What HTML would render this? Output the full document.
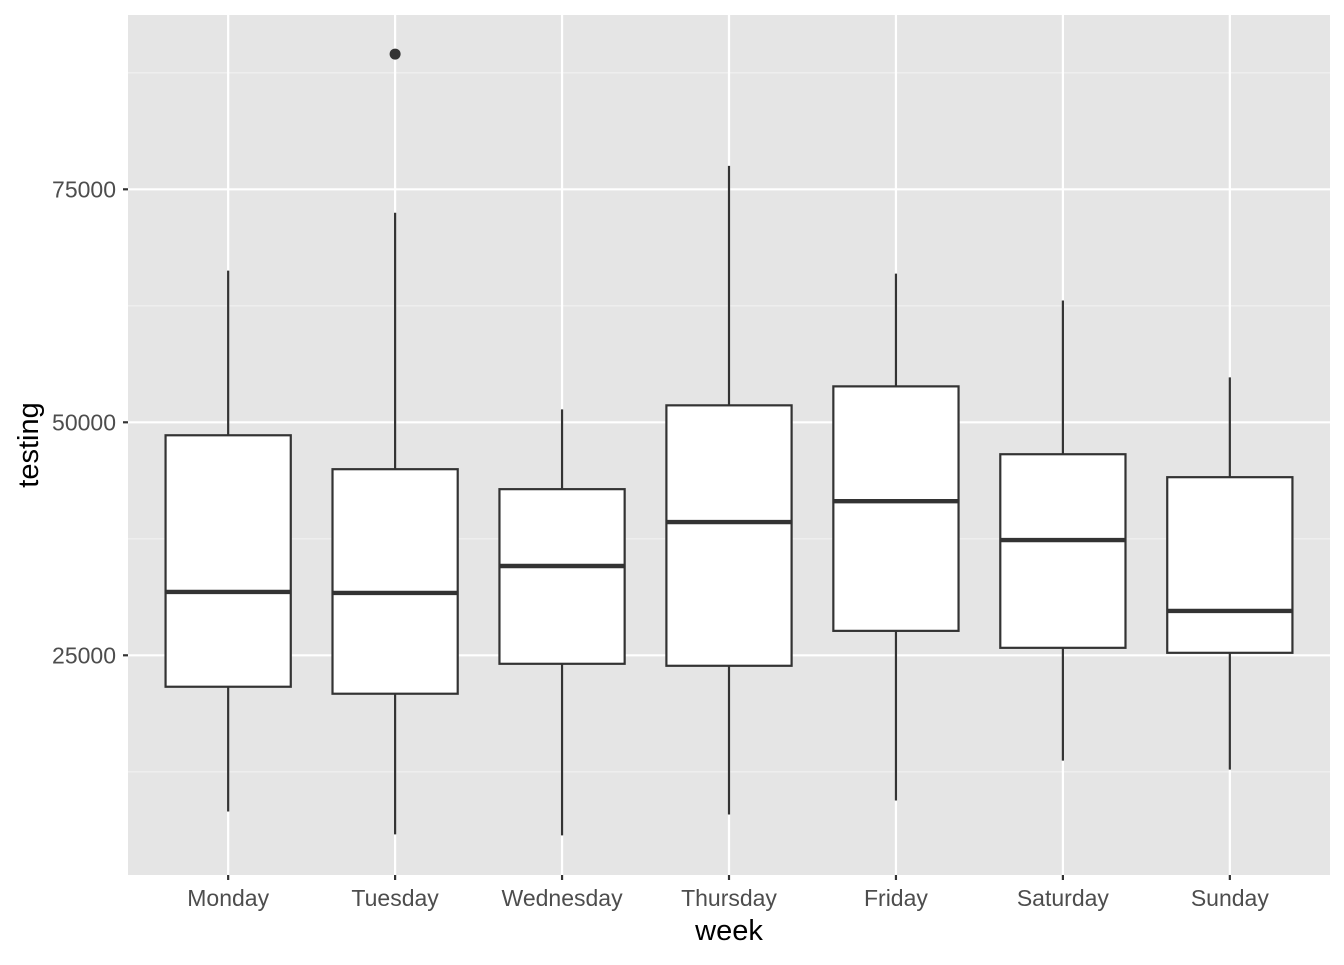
<!DOCTYPE html>
<html><head><meta charset="utf-8"><style>
body{margin:0;background:#fff;}
svg text{font-family:"Liberation Sans",Arial,sans-serif;}
</style></head><body>
<svg id="chart" width="1344" height="960" xmlns="http://www.w3.org/2000/svg"></svg>
<script>
const categories=["Monday","Tuesday","Wednesday","Thursday","Friday","Saturday","Sunday"];
const lowWhisker=[8243,5780,5673,7922,9421,13703,12740];
const q1=[21626,20877,24089,23875,27622,25802,25267];
const median=[31798,31691,34582,39293,41541,37366,29764];
const q3=[48608,44968,42826,51820,53855,46574,44111];
const highWhisker=[66275,72485,51392,77517,65954,63063,54818];
const outliers=[[],[89509],[],[],[],[],[]];
const majorTicks=[25000,50000,75000];
const minorTicks=[12500,37500,62500,87500];

const NS="http://www.w3.org/2000/svg";
const svg=document.getElementById('chart');
const L=128,R=1330,T=15,B=875;
const yv=v=>422.3-(v-50000)*233/25000;
const step=(R-L)/7.2;
const xc=i=>L+step*(0.6+i);
function mk(tag,attrs,parent){const e=document.createElementNS(NS,tag);for(const k in attrs)e.setAttribute(k,attrs[k]);(parent||svg).appendChild(e);return e;}
const panel=mk('rect',{x:L,y:T,width:R-L,height:B-T,fill:'#e5e5e5'});


minorTicks.forEach(v=>{const l=mk('line',{x1:L,x2:R,y1:yv(v),y2:yv(v),stroke:'#f2f2f2','stroke-width':1.1});

});
majorTicks.forEach(v=>{const l=mk('line',{x1:L,x2:R,y1:yv(v),y2:yv(v),stroke:'#fff','stroke-width':2.2});


const t=mk('line',{x1:L-5,x2:L,y1:yv(v),y2:yv(v),stroke:'#333','stroke-width':2.2});


const tx=mk('text',{x:L-12,y:yv(v)+8,'text-anchor':'end','font-size':23,fill:'#4d4d4d'});tx.textContent=v;

});
categories.forEach((c,i)=>{const x=xc(i);
const g=mk('line',{x1:x,x2:x,y1:T,y2:B,stroke:'#fff','stroke-width':2.2});


const t=mk('line',{x1:x,x2:x,y1:B,y2:B+5,stroke:'#333','stroke-width':2.2});


const tx=mk('text',{x:x,y:B+31,'text-anchor':'middle','font-size':23,fill:'#4d4d4d'});tx.textContent=c;

});
categories.forEach((c,i)=>{const x=xc(i),w=step*0.75;
const grp=mk('g',{});


mk('line',{x1:x,x2:x,y1:yv(highWhisker[i]),y2:yv(q3[i]),stroke:'#333','stroke-width':2.2},grp);
mk('line',{x1:x,x2:x,y1:yv(q1[i]),y2:yv(lowWhisker[i]),stroke:'#333','stroke-width':2.2},grp);
mk('rect',{x:x-w/2,y:yv(q3[i]),width:w,height:yv(q1[i])-yv(q3[i]),fill:'#fff',stroke:'#333','stroke-width':2.2},grp);
mk('line',{x1:x-w/2,x2:x+w/2,y1:yv(median[i]),y2:yv(median[i]),stroke:'#333','stroke-width':4.4},grp);
outliers[i].forEach(v=>{const p=mk('circle',{cx:x,cy:yv(v),r:5.5,fill:'#333'},grp);

});});
const xt=mk('text',{x:(L+R)/2,y:940,'text-anchor':'middle','font-size':29,fill:'#000'});xt.textContent='week';


const yt=mk('text',{x:0,y:0,'text-anchor':'middle','font-size':29,fill:'#000',transform:`translate(38,${(T+B)/2}) rotate(-90)`});yt.textContent='testing';


</script>
</body></html>
